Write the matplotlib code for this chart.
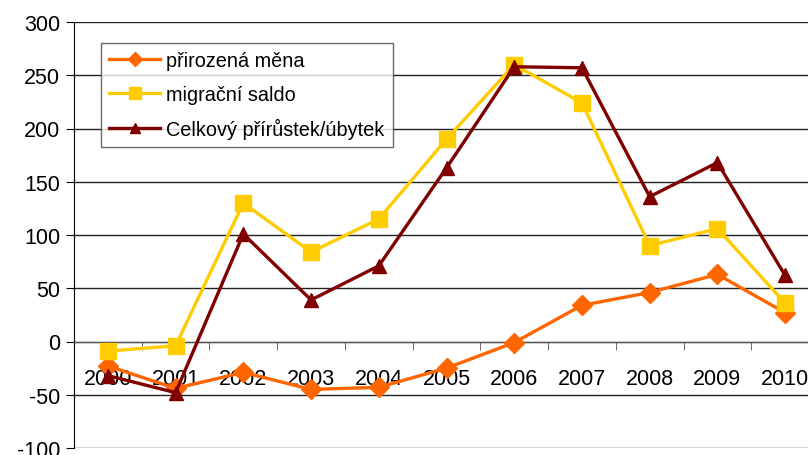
import matplotlib.pyplot as plt
from matplotlib.ticker import FixedLocator

years = ['2000', '2001', '2002', '2003', '2004', '2005',
         '2006', '2007', '2008', '2009', '2010']
prirozena = [-23, -44, -29, -45, -43, -25, -1, 34, 46, 63, 27]
migracni = [-9, -4, 130, 84, 115, 190, 260, 224, 90, 106, 36]
celkovy = [-32, -48, 101, 39, 71, 163, 258, 257, 136, 168, 62]

plt.rcParams['font.family'] = ['Liberation Sans', 'DejaVu Sans']
plt.rcParams['axes.unicode_minus'] = False

fig = plt.figure(figsize=(8.08, 4.56), dpi=100)
# axes runs past the right edge, as in the reference
ax = fig.add_axes([74 / 808, 7 / 456, 745 / 808, 426 / 456])

x = list(range(len(years)))
ax.plot(x, prirozena, color='#FF6600', lw=2.4, marker='D', ms=10,
        label='přirozená měna', zorder=3)
ax.plot(x, migracni, color='#FFCC00', lw=2.4, marker='s', ms=12,
        label='migrační saldo', zorder=4)
ax.plot(x, celkovy, color='#800000', lw=2.4, marker='^', ms=10,
        label='Celkový přírůstek/úbytek', zorder=5)

ax.set_xlim(-0.5, 10.5)
ax.set_ylim(-100, 300)
ax.set_yticks(range(-100, 301, 50))
ax.yaxis.grid(True, color='#222222', lw=1)
ax.set_axisbelow(True)

ax.spines['bottom'].set_position(('data', 0))
ax.spines['bottom'].set_color('#555555')
ax.spines['top'].set_visible(False)
ax.spines['right'].set_visible(False)
ax.spines['left'].set_color('black')

ax.set_xticks(x)
ax.set_xticklabels(years)
ax.xaxis.set_minor_locator(FixedLocator([i + 0.5 for i in range(-1, 11)]))
ax.tick_params(axis='x', which='major', length=0, pad=19, labelsize=15.5)
ax.tick_params(axis='x', which='minor', length=6, color='#555555')
ax.tick_params(axis='y', length=6, labelsize=15.5, pad=4)

leg = ax.legend(loc='upper left', bbox_to_anchor=(0.036, 0.95),
                fontsize=14.3, frameon=True, fancybox=False, markerscale=0.7,
                handlelength=2.6, handletextpad=0.3, borderpad=0.4,
                labelspacing=0.72, borderaxespad=0)
leg.get_frame().set_edgecolor('#444444')
leg.get_frame().set_linewidth(1)

fig.savefig('out.png', dpi=100, facecolor='white')
